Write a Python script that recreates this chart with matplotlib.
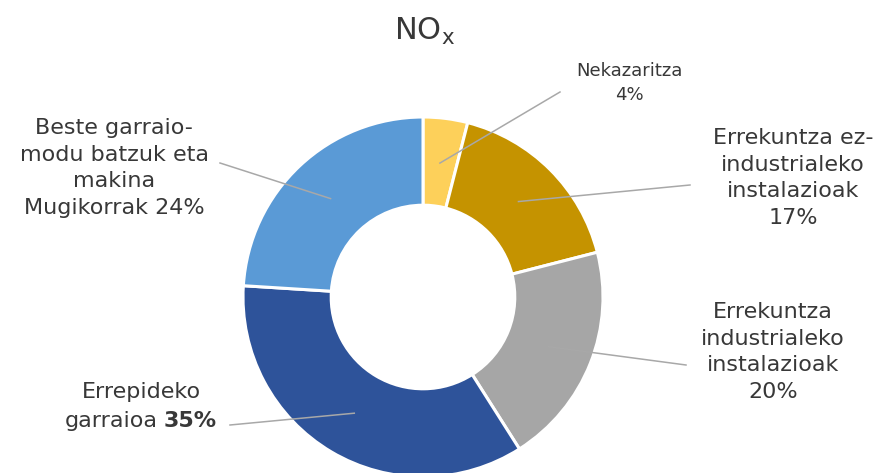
import numpy as np
import matplotlib.pyplot as plt

# data
labels = ['Nekazaritza\n4%',
          'Errekuntza ez-\nindustrialeko\ninstalazioak\n17%',
          'Errekuntza\nindustrialeko\ninstalazioak\n20%',
          'Errepideko',
          'Beste garraio-\nmodu batzuk eta\nmakina\nMugikorrak 24%']
values = [4, 17, 20, 35, 24]
colors = ['#FDD05A', '#C59300', '#A6A6A6', '#2E539A', '#5A9AD6']

# layout (pixels of the 874x473 picture)
W, H = 874, 473
cx, cy, R = 423, 297, 180
label_pos = [(629, 83), (793, 178), (773, 352), (141, 392), (114, 168)]
label_size = [13, 16, 16, 16, 16]
line_start = [(560, 92), (690, 185), (686, 365), (230, 425), (220, 163)]
text_color = '#383838'


def to_data(px, py):
    return (px - cx) / R, (cy - py) / R


fig = plt.figure(figsize=(W / 100, H / 100), dpi=100)
ax = fig.add_axes([0, 0, 1, 1])

wedges, _ = ax.pie(values, colors=colors, startangle=90, counterclock=False,
                   radius=1, wedgeprops=dict(width=0.49, edgecolor='white', linewidth=2.2))

ax.set_xlim(to_data(0, 0)[0], to_data(W, 0)[0])
ax.set_ylim(to_data(0, H)[1], to_data(0, 0)[1])
ax.set_aspect('equal')
ax.axis('off')

# leader lines, from label to the middle of the ring
for w, (sx, sy) in zip(wedges, line_start):
    ang = np.deg2rad((w.theta1 + w.theta2) / 2)
    ex, ey = 0.75 * np.cos(ang), 0.75 * np.sin(ang)
    x0, y0 = to_data(sx, sy)
    ax.plot([x0, ex], [y0, ey], color='#a8a8a8', linewidth=1.1, zorder=3)

for lab, (px, py), fs in zip(labels, label_pos, label_size):
    x, y = to_data(px, py)
    ax.text(x, y, lab, ha='center', va='center', fontsize=fs, color=text_color,
            linespacing=1.42, zorder=4)

# second line of the road transport label, with the bold percentage
x2, y2 = to_data(141, 421)
t1 = ax.text(x2, y2, 'garraioa', ha='left', va='center', fontsize=16, color=text_color)
t2 = ax.text(x2, y2, '35%', ha='left', va='center', fontsize=16, color=text_color,
             fontweight='bold')
renderer = fig.canvas.get_renderer()
w1 = t1.get_window_extent(renderer).width
w2 = t2.get_window_extent(renderer).width
gap = 6
left = 141 - (w1 + gap + w2) / 2
t1.set_x(to_data(left, 0)[0])
t2.set_x(to_data(left + w1 + gap, 0)[0])

fig.text(425 / W, 1 - 31 / H, r'NO$_\mathrm{x}$', ha='center', va='center',
         fontsize=22, color=text_color)

fig.savefig('out.png', dpi=100)
